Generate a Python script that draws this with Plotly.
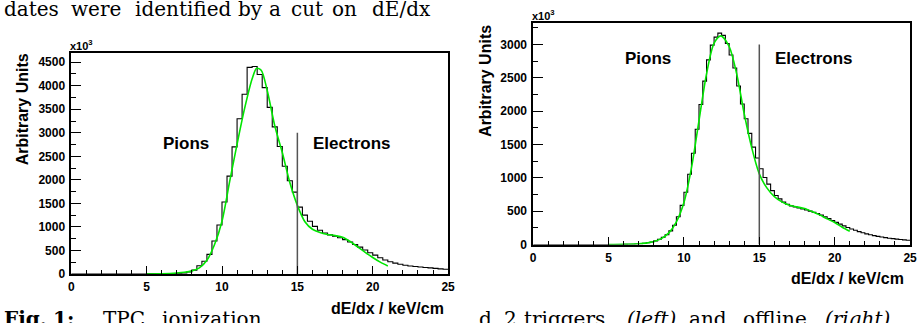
import plotly.graph_objects as go

# ---------------- data (values in units of 10^3) ----------------
# Left panel: trigger data, 75 bins of 1/3 keV/cm over 0..25
left_range = [0, 25]
left_nbins = 75
left_counts = [0, 0, 0, 0, 0, 0, 0, 0, 0, 0, 0, 0, 0, 0, 0,
               1, 2, 3, 5, 7, 10, 14, 20, 40, 80, 175, 270, 415, 700, 1040,
               1530, 2080, 2700, 3300, 3820, 4390, 4410, 4240, 3960, 3540,
               3125, 2710, 2290, 1980, 1740, 1420, 1250, 1120, 1010, 930,
               870, 830, 800, 770, 730, 680, 625, 570, 510, 450,
               400, 345, 295, 260, 230, 205, 185, 170, 158, 148,
               138, 128, 118, 108, 100]
left_fit_x = [5, 6, 7, 7.5, 8, 8.5, 9, 9.5, 10, 10.5, 11, 11.5, 12, 12.3, 12.6,
              13, 13.5, 14, 14.5, 15, 15.5, 16, 16.5, 17, 17.5, 18, 18.5, 19,
              19.5, 20, 20.5, 21]
left_fit_y = [0, 5, 20, 35, 65, 130, 290, 620, 1120, 1950, 2760, 3520, 4150,
              4370, 4330, 3900, 3150, 2580, 1944, 1458, 1111, 950, 880, 840,
              815, 780, 690, 575, 460, 350, 250, 170]

# Right panel: offline data, 100 bins of 0.25 keV/cm over 0..25
right_range = [0, 25]
right_nbins = 100
right_counts = [0] * 20 + [
    0, 1, 1, 2, 3, 4, 6, 9, 13, 19,
    27, 38, 55, 80, 110, 147, 206, 290, 417, 588,
    784, 1054, 1370, 1730, 2100, 2451, 2770, 2990, 3110, 3170,
    3137, 3015, 2843, 2647, 2377, 2108, 1887, 1667, 1461, 1299,
    1137, 1005, 907, 809, 735, 686, 637, 605, 580, 563,
    548, 533, 518, 502, 485, 465, 442, 418, 392, 362,
    333, 306, 280, 256, 234, 214, 195, 177, 160, 147,
    135, 123, 113, 104, 96, 89, 82, 76, 70, 65]
right_fit_x = [5, 6, 7, 7.5, 8, 8.5, 9, 9.5, 10, 10.5, 11, 11.5, 12, 12.45, 13,
               13.5, 14, 14.5, 15, 15.5, 16, 16.5, 17, 17.5, 18, 18.5, 19,
               19.5, 20, 20.5, 21]
right_fit_y = [0, 3, 12, 22, 45, 90, 175, 340, 630, 1150, 1860, 2560, 3020,
               3130, 2970, 2560, 1960, 1450, 1060, 850, 720, 640, 590, 565,
               540, 495, 445, 385, 330, 260, 200]

cut_value = 15
cut_height = 3000
x_ticks = [0, 5, 10, 15, 20, 25]
left_y_ticks = [0, 500, 1000, 1500, 2000, 2500, 3000, 3500, 4000, 4500]
right_y_ticks = [0, 500, 1000, 1500, 2000, 2500, 3000]
left_ymax = 4700
right_ymax = 3330

# surrounding paper text (justified words, with their left pixel positions)
top_words = ["dates", "were", "identified", "by", "a", "cut", "on", "dE/dx"]
top_word_px = [0, 68, 132, 237, 268, 290, 332, 372]
cap_left_words = ["<b>Fig.</b>", "<b>1:</b>", "TPC", "ionization"]
cap_left_px = [0, 50, 100, 160]
cap_right_words = ["d", "2", "triggers", "<i>(left)</i>", "and", "offline", "<i>(right)</i>."]
cap_right_px = [480, 505, 526, 630, 693, 747, 830]


def edges(rng, n):
    w = (rng[1] - rng[0]) / n
    return [rng[0] + i * w for i in range(n + 1)]


fig = go.Figure()

HIST = dict(color="black", width=1.1, shape="hv")
FIT = dict(color="#00e600", width=1.6, shape="spline", smoothing=0.8)
CUT = dict(color="#555555", width=1.5)

le = edges(left_range, left_nbins)
fig.add_trace(go.Scatter(x=le, y=left_counts + [left_counts[-1]], mode="lines",
                         line=HIST, xaxis="x", yaxis="y", hoverinfo="skip"))
fig.add_trace(go.Scatter(x=left_fit_x, y=left_fit_y, mode="lines", line=FIT,
                         xaxis="x", yaxis="y"))
fig.add_trace(go.Scatter(x=[cut_value, cut_value], y=[0, cut_height], mode="lines",
                         line=CUT, xaxis="x", yaxis="y"))

re_ = edges(right_range, right_nbins)
fig.add_trace(go.Scatter(x=re_, y=right_counts + [right_counts[-1]], mode="lines",
                         line=HIST, xaxis="x2", yaxis="y2", hoverinfo="skip"))
fig.add_trace(go.Scatter(x=right_fit_x, y=right_fit_y, mode="lines", line=FIT,
                         xaxis="x2", yaxis="y2"))
fig.add_trace(go.Scatter(x=[cut_value, cut_value], y=[0, cut_height], mode="lines",
                         line=CUT, xaxis="x2", yaxis="y2"))

W, H = 922, 323
TICKFONT = dict(family="Liberation Sans, Arial", size=12, color="black", weight=700)


def px_x(p):
    return p / W


def px_y(p):
    return 1 - p / H


def xaxis(dom, anchor):
    return dict(domain=dom, anchor=anchor, range=[0, 25], tickvals=x_ticks,
                ticks="inside", ticklen=8, tickwidth=1, tickcolor="black",
                minor=dict(dtick=1, tick0=0, ticks="inside", ticklen=4,
                           tickcolor="black", tickwidth=1),
                showline=True, linecolor="black", linewidth=1.5, mirror=True,
                showgrid=False, zeroline=False, tickfont=TICKFONT,
                ticklabelstandoff=1)


def yaxis(dom, anchor, ymax, tv):
    return dict(domain=dom, anchor=anchor, range=[0, ymax], tickvals=tv,
                ticks="inside", ticklen=10, tickwidth=1, tickcolor="black",
                minor=dict(dtick=250, tick0=0, ticks="inside", ticklen=5,
                           tickcolor="black", tickwidth=1),
                showline=True, linecolor="black", linewidth=1.5, mirror=True,
                showgrid=False, zeroline=False, tickfont=TICKFONT,
                ticklabelstandoff=2)


fig.update_layout(
    width=W, height=H, margin=dict(l=0, r=0, t=0, b=0),
    paper_bgcolor="white", plot_bgcolor="white", showlegend=False,
    xaxis=xaxis([px_x(69), px_x(450)], "y"),
    yaxis=yaxis([px_y(280), px_y(54)], "x", left_ymax, left_y_ticks),
    xaxis2=xaxis([px_x(536), px_x(917)], "y2"),
    yaxis2=yaxis([px_y(250), px_y(23)], "x2", right_ymax, right_y_ticks),
)

LBL = dict(family="Liberation Sans, Arial", size=17, color="black", weight="bold")
TTL = dict(family="Liberation Sans, Arial", size=16, color="black", weight="bold")
SMALL = dict(family="Liberation Sans, Arial", size=11, color="black", weight="bold")
SERIF = dict(family="DejaVu Serif", size=20, color="black")

ann = []
for xr, yr, y_lab in (("x", "y", 2770), ("x2", "y2", 2794)):
    ann.append(dict(x=7.6, y=y_lab, xref=xr, yref=yr, text="Pions", showarrow=False,
                    font=LBL, yanchor="middle"))
    ann.append(dict(x=18.6, y=y_lab, xref=xr, yref=yr, text="Electrons", showarrow=False,
                    font=LBL, yanchor="middle"))

ann += [
    dict(x=px_x(20), y=px_y(112), xref="paper", yref="paper", text="Arbitrary Units",
         textangle=-90, showarrow=False, font=TTL, yanchor="middle", xanchor="center"),
    dict(x=px_x(487), y=px_y(83), xref="paper", yref="paper", text="Arbitrary Units",
         textangle=-90, showarrow=False, font=TTL, yanchor="middle", xanchor="center"),
    dict(x=px_x(448), y=px_y(315), xref="paper", yref="paper", text="dE/dx / keV/cm",
         xanchor="right", yanchor="middle", showarrow=False, font=TTL),
    dict(x=px_x(913), y=px_y(285), xref="paper", yref="paper", text="dE/dx / keV/cm",
         xanchor="right", yanchor="middle", showarrow=False, font=TTL),
    dict(x=px_x(67), y=px_y(54), xref="paper", yref="paper", text="x10<sup>3</sup>",
         xanchor="left", yanchor="bottom", showarrow=False, font=SMALL, borderpad=0),
    dict(x=px_x(534), y=px_y(23), xref="paper", yref="paper", text="x10<sup>3</sup>",
         xanchor="left", yanchor="bottom", showarrow=False, font=SMALL, borderpad=0),
]
for w, p in zip(top_words, top_word_px):
    ann.append(dict(x=px_x(p), y=px_y(-4), xref="paper", yref="paper", xanchor="left",
                    yanchor="top", text=w, showarrow=False, font=SERIF, borderpad=0))
for w, p in zip(cap_left_words + cap_right_words, cap_left_px + cap_right_px):
    ann.append(dict(x=px_x(p), y=px_y(313), xref="paper", yref="paper", xanchor="left",
                    yanchor="top", text=w, showarrow=False, font=SERIF, borderpad=0))
fig.update_layout(annotations=ann)

fig.write_html("out.html", config={"displayModeBar": False},
               post_script="document.body.style.margin='0';")
